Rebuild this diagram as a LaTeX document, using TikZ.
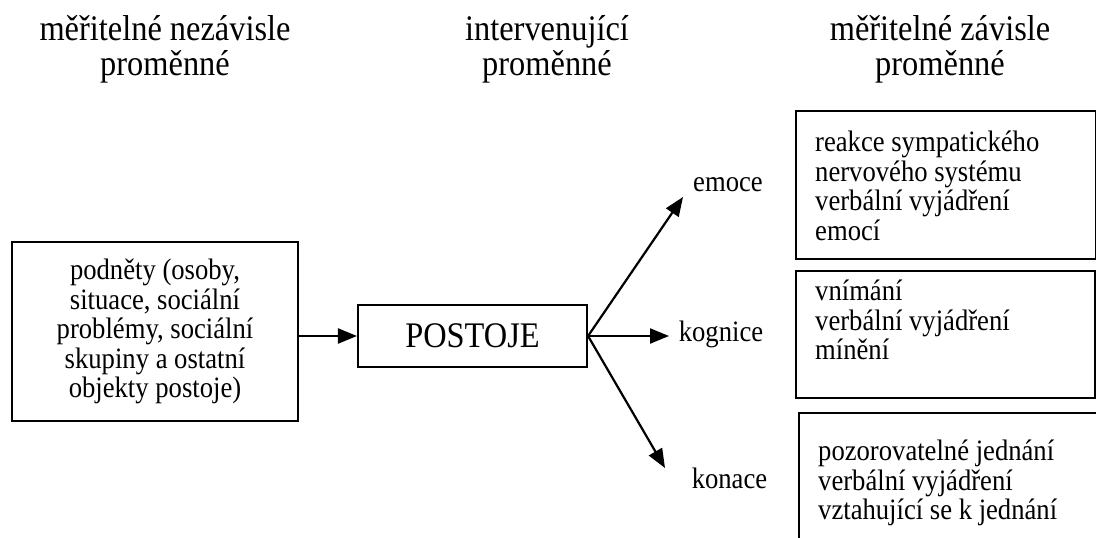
\documentclass[tikz,border=0pt]{standalone}
\usepackage{fontspec}
\setmainfont{Liberation Serif}[FakeStretch=0.9]
\usetikzlibrary{arrows.meta}
\begin{document}
\begin{tikzpicture}[x=1pt,y=-1pt,
  box/.style={draw, line width=2.1pt, inner sep=0pt},
  body/.style={font=\fontsize{29.6}{29.5}\selectfont},
  head/.style={font=\fontsize{36}{35}\selectfont, align=center, inner sep=0pt},
  lbl/.style={body, inner sep=0pt, anchor=base},
  arr/.style={line width=2.2pt, -{Triangle[length=19pt,width=15pt]}}]
\useasboundingbox (0,0) rectangle (1096,538);
\clip (0,0) rectangle (1096,538);

% column headings
\node[head, anchor=north] (h1) at (165,15) {měřitelné nezávisle\\ proměnné};
\node[head, anchor=north] (h2) at (547,15) {intervenující\\ proměnné};
\node[head, anchor=north] (h3) at (940,15) {měřitelné závisle\\ proměnné};

% stimuli and attitudes
\node[box, body, align=center, minimum width=286pt, minimum height=179pt]
  (stim) at (155,331.5) {podněty (osoby,\\ situace, sociální\\ problémy, sociální\\ skupiny a ostatní\\ objekty postoje)};
\node[box, font=\fontsize{36}{34}\selectfont, minimum width=229pt, minimum height=62pt]
  (att) at (472.5,336) {POSTOJE};

% attitude components
\node[lbl] (emo) at (728,191.5) {emoce};
\node[lbl] (kog) at (721,341.5) {kognice};
\node[lbl] (kon) at (729.5,488.5) {konace};

% measurable responses
\node[box, anchor=north west, minimum width=300pt, minimum height=148pt] (rb1) at (795,110) {};
\node[box, anchor=north west, minimum width=299pt, minimum height=127pt] (rb2) at (795,270) {};
\node[box, anchor=north west, minimum width=320pt, minimum height=160pt] (rb3) at (798,412) {};
\node[body, align=left, anchor=north west, inner sep=0pt] (t1) at (815,131)
  {reakce sympatického\\ nervového systému\\ verbální vyjádření\\ emocí};
\node[body, align=left, anchor=north west, inner sep=0pt] (t2) at (815,280)
  {vnímání\\ verbální vyjádření\\ mínění};
\node[body, align=left, anchor=north west, inner sep=0pt] (t3) at (818,440)
  {pozorovatelné jednání\\ verbální vyjádření\\ vztahující se k jednání};

% connectors
\coordinate (tipE) at (683,197);
\coordinate (tipK) at (669,336);
\coordinate (tipC) at (665,468);
\draw[arr] (att.west -| stim.east) -- (att.west);
\draw[arr] (att.east) -- (tipE);
\draw[arr] (att.east) -- (tipK);
\draw[arr] (att.east) -- (tipC);
\end{tikzpicture}
\end{document}
